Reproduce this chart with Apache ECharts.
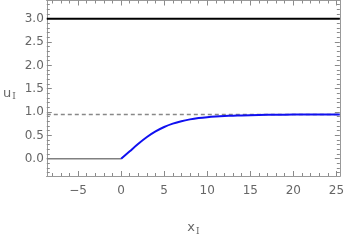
<!DOCTYPE html>
<html><head><meta charset="utf-8">
<script src="https://cdn.jsdelivr.net/npm/echarts@6/dist/echarts.min.js"></script>
<style>html,body{margin:0;padding:0;background:#fff}#c{width:347px;height:241px}</style>
</head><body><div id="c"></div>
<script>
const xRange = [-8.63, 25.4];
const yRange = [-0.37, 3.39];
const xMajor = [-5, 0, 5, 10, 15, 20, 25];
const xMinor = [-8,-7,-6,-4,-3,-2,-1,1,2,3,4,6,7,8,9,11,12,13,14,16,17,18,19,21,22,23,24];
const yMajor = [0, 0.5, 1.0, 1.5, 2.0, 2.5, 3.0];
const yMinor = [-0.3,-0.2,-0.1,0.1,0.2,0.3,0.4,0.6,0.7,0.8,0.9,1.1,1.2,1.3,1.4,1.6,1.7,1.8,1.9,2.1,2.2,2.3,2.4,2.6,2.7,2.8,2.9,3.1,3.2,3.3];
const flatX = [-8.63, 0];
const flatY = [0, 0];
const curveX = [0, 1, 2, 3, 4, 5, 6, 7, 8, 9, 10, 11, 12, 13, 14, 16, 18, 20, 22, 25.4];
const curveY = [0, 0.16, 0.32, 0.465, 0.585, 0.68, 0.752, 0.805, 0.843, 0.871, 0.891, 0.905, 0.915, 0.922, 0.928, 0.937, 0.943, 0.946, 0.948, 0.95];
const asymptote = 0.95;
const upperLevel = 3.0;

const frameColor = '#999999';
const tickColor = '#8a8a8a';
const labelColor = '#666666';
const font = 'DejaVu Sans';

function pairs(xs, ys){ return xs.map((x,i)=>[x, ys[i]]); }

const chart = echarts.init(document.getElementById('c'));
function xAx(pos, vals, len, extra){
  return Object.assign({type:'value', min:xRange[0], max:xRange[1], position:pos, splitLine:{show:false},
    axisLine:{show:true, onZero:false, lineStyle:{color:frameColor}},
    axisTick:{show:true, inside:true, length:len, customValues:vals, lineStyle:{color:tickColor}},
    axisLabel:{show:false}}, extra||{});
}
function yAx(pos, vals, len, extra){
  return Object.assign({type:'value', min:yRange[0], max:yRange[1], position:pos, splitLine:{show:false},
    axisLine:{show:true, onZero:false, lineStyle:{color:frameColor}},
    axisTick:{show:true, inside:true, length:len, customValues:vals, lineStyle:{color:tickColor}},
    axisLabel:{show:false}}, extra||{});
}
const subRich = {a:{fontFamily:font, fontSize:13, color:labelColor}, b:{fontFamily:'DejaVu Serif', fontSize:9, color:labelColor, padding:[7,0,0,1]}};

chart.setOption({
  animation:false,
  grid:{left:45, right:3.5, top:0.5, bottom:57},
  xAxis:[
    xAx('bottom', xMajor, 5, {
      name:'{a|x}{b|I}', nameLocation:'middle', nameGap:44, nameTextStyle:{rich:subRich},
      axisLabel:{show:true, customValues:xMajor, margin:9, fontFamily:font, fontSize:12, color:labelColor,
        formatter:v=> (v<0?'\u2212'+Math.abs(v):String(v))}}),
    xAx('bottom', xMinor, 3),
    xAx('top', xMajor, 5),
    xAx('top', xMinor, 3)
  ],
  yAxis:[
    yAx('left', yMajor, 5, {
      name:'{a|u}{b|I}', nameLocation:'middle', nameGap:31, nameRotate:0,
      nameTextStyle:{rich:subRich, padding:[10,0,0,0]},
      axisLabel:{show:true, customValues:yMajor, margin:3, fontFamily:font, fontSize:12, color:labelColor,
        formatter:v=>v.toFixed(1)}}),
    yAx('left', yMinor, 3),
    yAx('right', yMajor, 5),
    yAx('right', yMinor, 3)
  ],
  series:[
    {type:'line', data:[[xRange[0], asymptote],[xRange[1], asymptote]], symbol:'none',
      lineStyle:{color:'#888', width:1.5, type:[4,3]}},
    {type:'line', data:[[xRange[0], upperLevel],[xRange[1], upperLevel]], symbol:'none',
      lineStyle:{color:'#000', width:2}},
    {type:'line', data:pairs(flatX, flatY), symbol:'none',
      lineStyle:{color:'#808080', width:1.6}},
    {type:'line', data:pairs(curveX, curveY), symbol:'none', smooth:0.3,
      lineStyle:{color:'#1010f0', width:2}}
  ]
});
</script></body></html>
